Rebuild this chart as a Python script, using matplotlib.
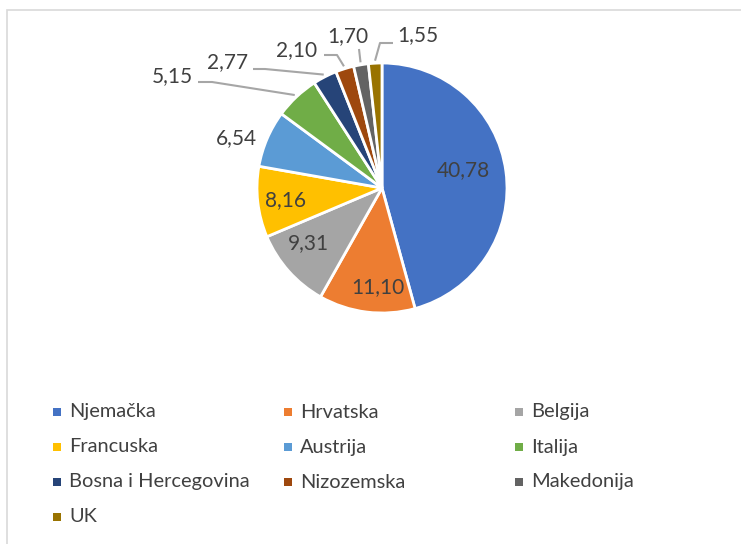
import numpy as np
import matplotlib.pyplot as plt
from matplotlib.patches import Rectangle

countries = ["Njemačka", "Hrvatska", "Belgija", "Francuska", "Austrija", "Italija",
             "Bosna i Hercegovina", "Nizozemska", "Makedonija", "UK"]
shares = [40.78, 11.10, 9.31, 8.16, 6.54, 5.15, 2.77, 2.10, 1.70, 1.55]
colors = ["#4472C4", "#ED7D31", "#A5A5A5", "#FFC000", "#5B9BD5", "#70AD47",
          "#264478", "#9E480E", "#636363", "#997300"]

# label layout (data units, pie radius = 1)
label_pos = [(0.648, 0.144), (-0.032, -0.792), (-0.592, -0.44), (-0.776, -0.096),
             (-1.168, 0.40), (-1.68, 0.896), (-1.232, 1.008), (-0.68, 1.104),
             (-0.272, 1.216), (0.288, 1.224)]
# leader lines: index -> (start, elbow)
leaders = {5: ((-1.472, 0.848), (-1.36, 0.848)),
           6: ((-1.032, 0.952), (-0.936, 0.952)),
           7: ((-0.464, 1.064), (-0.36, 1.064)),
           8: ((-0.184, 1.112), (-0.184, 1.112)),
           9: ((0.088, 1.16), (-0.016, 1.16))}

W, H = 741, 544
cx, cy, R = 382, 188, 125  # pixel centre and radius of the pie

plt.rcParams['font.family'] = ['Lato', 'DejaVu Sans']
fig = plt.figure(figsize=(W / 100, H / 100), dpi=100)
ax = fig.add_axes([0, 0, 1, 1])

wedges, _ = ax.pie(shares, colors=colors, startangle=90, counterclock=False,
                   radius=1, wedgeprops=dict(edgecolor="white", linewidth=2))
ax.set_xlim(-cx / R, (W - cx) / R)
ax.set_ylim(-(H - cy) / R, cy / R)
ax.axis('off')

for i, (v, (x, y)) in enumerate(zip(shares, label_pos)):
    ax.text(x, y, f"{v:.2f}".replace(".", ","), ha="center", va="center",
            fontsize=15, color="#404040")
    if i in leaders:
        w = wedges[i]
        mid = np.deg2rad((w.theta1 + w.theta2) / 2)
        end = (1.02 * np.cos(mid), 1.02 * np.sin(mid))
        (sx, sy), (ex, ey) = leaders[i]
        ax.plot([sx, ex, end[0]], [sy, ey, end[1]], color="#A6A6A6", lw=1.5,
                solid_capstyle="butt")

# legend, row-wise in 3 columns
col_x = [57, 288, 519]
row_y0, row_dy = 412, 35
for i, (name, c) in enumerate(zip(countries, colors)):
    r, k = divmod(i, 3)
    px, py = col_x[k], row_y0 + r * row_dy
    fig.patches.append(Rectangle(((px - 4) / W, (H - py - 4) / H), 8 / W, 8 / H,
                                 transform=fig.transFigure, facecolor=c, edgecolor="none"))
    fig.text((px + 12) / W, (H - py) / H, name, ha="left", va="center",
             fontsize=14.4, color="#404040")

# chart border
fig.patches.append(Rectangle((7 / W, -0.1), 1.2, (H - 10) / H + 0.1,
                             transform=fig.transFigure, facecolor="none",
                             edgecolor="#D9D9D9", lw=1.2))

fig.savefig("out.png", dpi=100)
